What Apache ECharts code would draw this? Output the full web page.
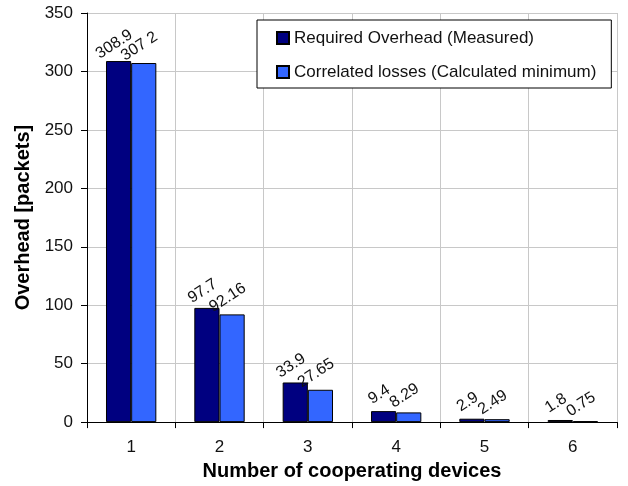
<!DOCTYPE html>
<html><head><meta charset="utf-8">
<script src="https://cdn.jsdelivr.net/npm/echarts@6/dist/echarts.min.js"></script>
<style>html,body{margin:0;padding:0;background:#fff}#c{width:628px;height:486px}</style>
</head><body><div id="c"></div>
<script>
const categories = ['1','2','3','4','5','6'];
const measured = [308.9, 97.7, 33.9, 9.4, 2.9, 1.8];
const calculated = [307.2, 92.16, 27.65, 8.29, 2.49, 0.75];
const measuredLabels = ['308.9','97.7','33.9','9.4','2.9','1.8'];
const calculatedLabels = ['307 2','92.16','27.65','8.29','2.49','0.75'];
const seriesNames = ['Required Overhead (Measured)', 'Correlated losses (Calculated minimum)'];

const FONT = '"Liberation Sans", Arial, sans-serif';
const chart = echarts.init(document.getElementById('c'));
function lbl(arr){
  return {show:true, position:'top', distance:10, rotate:33, fontFamily:FONT, fontSize:16, color:'#111',
    formatter:(p)=>arr[p.dataIndex]};
}
chart.setOption({
  animation:false,
  textStyle:{fontFamily:FONT},
  grid:{left:87, right:11, top:13, bottom:62},
  legend:{
    orient:'vertical', left:257, top:20,
    padding:[9,15,7,19], itemGap:16, itemWidth:12, itemHeight:12,
    backgroundColor:'#fff', borderColor:'#000', borderWidth:1,
    textStyle:{fontFamily:FONT, fontSize:17, color:'#111', lineHeight:18},
    data:seriesNames.map(n=>({name:n, icon:'rect'}))
  },
  xAxis:{
    type:'category', data:categories,
    name:'Number of cooperating devices', nameLocation:'middle', nameGap:38,
    nameTextStyle:{fontFamily:FONT, fontSize:20, fontWeight:'bold', color:'#000'},
    axisLine:{lineStyle:{color:'#000'}},
    axisTick:{show:true, length:6, lineStyle:{color:'#000'}},
    axisLabel:{margin:17, fontFamily:FONT, fontSize:17, color:'#111'},
    splitLine:{show:true, lineStyle:{color:'#c8c8c8', width:1}}
  },
  yAxis:{
    type:'value', min:0, max:350, interval:50,
    name:'Overhead [packets]', nameLocation:'middle', nameGap:52,
    nameTextStyle:{fontFamily:FONT, fontSize:20, fontWeight:'bold', color:'#000'},
    axisLine:{show:true, lineStyle:{color:'#000'}},
    axisTick:{show:true, length:6, lineStyle:{color:'#000'}},
    axisLabel:{margin:14, fontFamily:FONT, fontSize:17, color:'#111'},
    splitLine:{show:true, lineStyle:{color:'#c8c8c8', width:1}}
  },
  series:[
    {name:seriesNames[0], type:'bar', data:measured, barGap:'0%', barCategoryGap:'43%',
     itemStyle:{color:'#000080', borderColor:'#000', borderWidth:1}, label:lbl(measuredLabels)},
    {name:seriesNames[1], type:'bar', data:calculated,
     itemStyle:{color:'#3366ff', borderColor:'#000', borderWidth:1}, label:lbl(calculatedLabels)}
  ]
});
</script></body></html>
